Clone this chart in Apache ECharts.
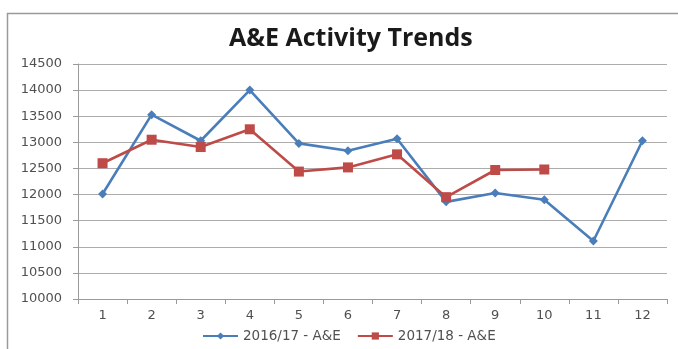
<!DOCTYPE html>
<html>
<head>
<meta charset="utf-8">
<script src="https://cdn.jsdelivr.net/npm/echarts@6/dist/echarts.min.js"></script>
<style>
  html, body { margin: 0; padding: 0; background: #ffffff; }
  #chart { width: 678px; height: 349px; }
</style>
</head>
<body>
<div id="chart"></div>
<script>
// Monthly A&E attendances
const months = ['1', '2', '3', '4', '5', '6', '7', '8', '9', '10', '11', '12'];
const ae1617 = [12010, 13530, 13030, 14000, 12980, 12840, 13070, 11860, 12030, 11900, 11110, 13030];
const ae1718 = [12600, 13050, 12910, 13250, 12440, 12520, 12770, 11950, 12470, 12480];
const yTicks = { min: 10000, max: 14500, step: 500 };

const titleFont = '"Open Sans", "Liberation Sans", sans-serif';
const font = '"DejaVu Sans", "Open Sans", sans-serif';
const chart = echarts.init(document.getElementById('chart'));

chart.setOption({
  animation: false,
  backgroundColor: '#ffffff',
  textStyle: { fontFamily: font },
  graphic: [{
    type: 'rect',
    shape: { x: 7.5, y: 13.5, width: 690, height: 360 },
    style: { fill: 'none', stroke: '#9a9a9a', lineWidth: 1.5 },
    silent: true
  }],
  title: {
    text: 'A&E Activity Trends',
    left: 224,
    top: 21,
    textStyle: { fontFamily: titleFont, fontSize: 25, fontWeight: 'bold', color: '#1a1a1a' }
  },
  legend: {
    bottom: 1,
    left: 197,
    itemWidth: 35,
    itemHeight: 9,
    itemGap: 16,
    textStyle: { fontFamily: font, fontSize: 13.5, color: '#505050' },
    data: ['2016/17 - A&E', '2017/18 - A&E']
  },
  grid: { left: 78, right: 11, top: 64, bottom: 50, containLabel: false },
  xAxis: {
    type: 'category',
    data: months,
    boundaryGap: true,
    axisLine: { lineStyle: { color: '#9a9a9a', width: 1 } },
    axisTick: { show: true, length: 5, lineStyle: { color: '#9a9a9a' } },
    axisLabel: { margin: 10, fontSize: 13, color: '#505050', fontFamily: font },
    splitLine: { show: false }
  },
  yAxis: {
    type: 'value',
    min: yTicks.min,
    max: yTicks.max,
    interval: yTicks.step,
    axisLine: { show: true, lineStyle: { color: '#9a9a9a', width: 1 } },
    axisTick: { show: true, length: 5, lineStyle: { color: '#9a9a9a' } },
    axisLabel: {
      margin: 16, fontSize: 13, color: '#505050', fontFamily: font,
      formatter: (v) => String(v)
    },
    splitLine: { lineStyle: { color: '#acacac', width: 1.2 } }
  },
  series: [
    {
      name: '2016/17 - A&E',
      type: 'line',
      data: ae1617,
      symbol: 'diamond',
      symbolSize: 9,
      itemStyle: { color: '#4a7ebb' },
      lineStyle: { color: '#4a7ebb', width: 2.6 }
    },
    {
      name: '2017/18 - A&E',
      type: 'line',
      data: ae1718,
      symbol: 'rect',
      symbolSize: 10,
      itemStyle: { color: '#be4b48' },
      lineStyle: { color: '#be4b48', width: 2.6 }
    }
  ]
});
</script>
</body>
</html>
